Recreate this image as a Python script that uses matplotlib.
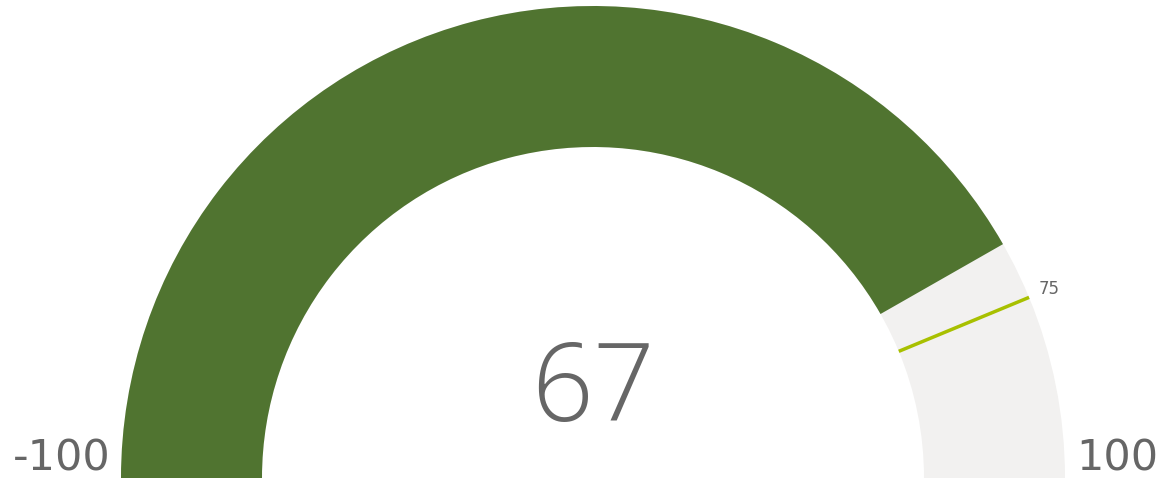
import numpy as np
import matplotlib.pyplot as plt
from matplotlib.patches import Wedge

# Дані датчика
min_val = -100
max_val = 100
value = 67
target = 75

W, H = 1160, 485
fig = plt.figure(figsize=(W / 100, H / 100), dpi=100)
ax = fig.add_axes([0, 0, 1, 1])
ax.set_xlim(0, W)
ax.set_ylim(0, H)
ax.axis("off")

cx, cy = 593, 6
r_out, r_in = 472, 331


def to_angle(v):
    return 180 - (v - min_val) / (max_val - min_val) * 180


# фон
ax.add_patch(Wedge((cx, cy), r_out, 0, 180, width=r_out - r_in,
                   facecolor="#f2f1f0", edgecolor="none"))
# значення
ax.add_patch(Wedge((cx, cy), r_out, to_angle(value), 180, width=r_out - r_in,
                   facecolor="#507430", edgecolor="none"))

# ціль
a = np.radians(to_angle(target))
ax.plot([cx + r_in * np.cos(a), cx + r_out * np.cos(a)],
        [cy + r_in * np.sin(a), cy + r_out * np.sin(a)],
        color="#a8c000", lw=2.5, solid_capstyle="butt")
ax.text(cx + r_out * np.cos(a) + 10, cy + r_out * np.sin(a) + 9,
        str(target), fontsize=12, color="#666666", ha="left", va="center")

ax.text(cx, 92, str(value), fontsize=78, color="#666666", ha="center",
        va="center", family="Open Sans", fontweight="light")
ax.text(111, 5, str(min_val), fontsize=31, color="#666666", ha="right",
        va="bottom")
ax.text(1076, 5, str(max_val), fontsize=31, color="#666666", ha="left",
        va="bottom")

fig.savefig("out.png", dpi=100)
